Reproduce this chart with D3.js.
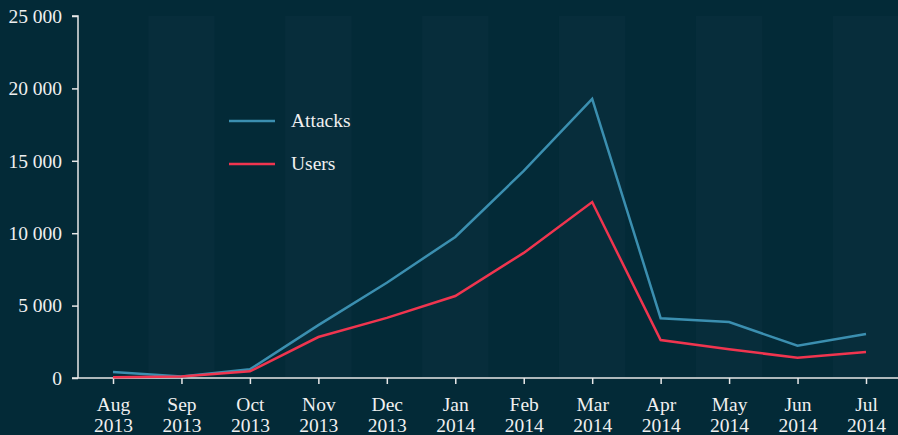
<!DOCTYPE html>
<html>
<head>
<meta charset="utf-8">
<script src="https://cdn.jsdelivr.net/npm/d3@7"></script>
<style>
  html, body { margin: 0; padding: 0; background: #032a37; }
  svg { display: block; }
  text { font-family: "Liberation Serif", "Times New Roman", serif; fill: #f0f0f0; }
</style>
</head>
<body>
<svg id="chart" width="898" height="435"></svg>
<script>
const months = ["Aug", "Sep", "Oct", "Nov", "Dec", "Jan", "Feb", "Mar", "Apr", "May", "Jun", "Jul"];
const years = ["2013", "2013", "2013", "2013", "2013", "2014", "2014", "2014", "2014", "2014", "2014", "2014"];
const attacks = [410, 100, 600, 3650, 6580, 9740, 14300, 19280, 4130, 3860, 2230, 3040];
const users = [60, 100, 460, 2830, 4150, 5660, 8640, 12150, 2620, 1980, 1400, 1800];
const yTicks = [0, 5000, 10000, 15000, 20000, 25000];

const svg = d3.select("#chart");
const W = 898, H = 435;
const m = { top: 16, right: 32, bottom: 57, left: 78 };
const fontSize = "19.5px";

const keys = months.map((d, i) => d + " " + years[i]);
const x = d3.scalePoint().domain(keys).range([113, W - m.right]);
const y = d3.scaleLinear().domain([0, 25000]).range([H - m.bottom, m.top]);
const step = x.step();

// alternating column bands
svg.append("g").selectAll("rect")
  .data(keys.filter((d, i) => i % 2 === 1))
  .enter().append("rect")
  .attr("x", d => x(d) - step / 2 + 1)
  .attr("y", m.top)
  .attr("width", step - 2)
  .attr("height", y(0) - m.top)
  .attr("fill", "#072d3b");

const fmt = v => d3.format(",")(v).replace(/,/g, " ");

// y axis
const yAxis = svg.append("g")
  .attr("transform", `translate(${m.left},0)`)
  .call(d3.axisLeft(y).tickValues(yTicks).tickFormat(fmt).tickSize(6).tickPadding(10));
yAxis.select(".domain").attr("stroke", "#e8e8e8").attr("stroke-width", 1.5).attr("d", `M-6,${m.top}H0V${y(0)}`);
yAxis.selectAll(".tick line").attr("stroke", "#e8e8e8").attr("stroke-width", 1.5);
yAxis.selectAll("text").style("font-size", fontSize).attr("fill", "#f0f0f0");

// x axis
const xAxis = svg.append("g")
  .attr("transform", `translate(0,${y(0)})`)
  .call(d3.axisBottom(x).tickSize(6).tickFormat(""));
xAxis.select(".domain").attr("stroke", "#e8e8e8").attr("stroke-width", 1.5).attr("d", `M${m.left - 6},0H${W}`);
xAxis.selectAll(".tick line").attr("stroke", "#e8e8e8").attr("stroke-width", 1.5);
xAxis.selectAll(".tick").append("text")
  .attr("text-anchor", "middle")
  .style("font-size", fontSize)
  .attr("fill", "#f0f0f0")
  .each(function(d, i) {
    const t = d3.select(this);
    t.append("tspan").attr("x", 0).attr("y", 33).text(months[i]);
    t.append("tspan").attr("x", 0).attr("y", 54).text(years[i]);
  });

// lines
const line = d3.line().x((d, i) => x(keys[i])).y(d => y(d));
const series = [
  { name: "Attacks", values: attacks, color: "#3b8fb0" },
  { name: "Users", values: users, color: "#f0354f" }
];

svg.append("g").selectAll("path")
  .data(series)
  .enter().append("path")
  .attr("fill", "none")
  .attr("stroke", d => d.color)
  .attr("stroke-width", 2.5)
  .attr("d", d => line(d.values));

// legend
const legend = svg.append("g").attr("transform", "translate(229,121)");
const li = legend.selectAll("g")
  .data(series)
  .enter().append("g")
  .attr("transform", (d, i) => `translate(0,${i * 43})`);
li.append("line")
  .attr("x1", 0).attr("x2", 46)
  .attr("stroke", d => d.color)
  .attr("stroke-width", 2.5);
li.append("text")
  .attr("x", 62).attr("y", 6)
  .style("font-size", fontSize)
  .attr("fill", "#f0f0f0")
  .text(d => d.name);
</script>
</body>
</html>
